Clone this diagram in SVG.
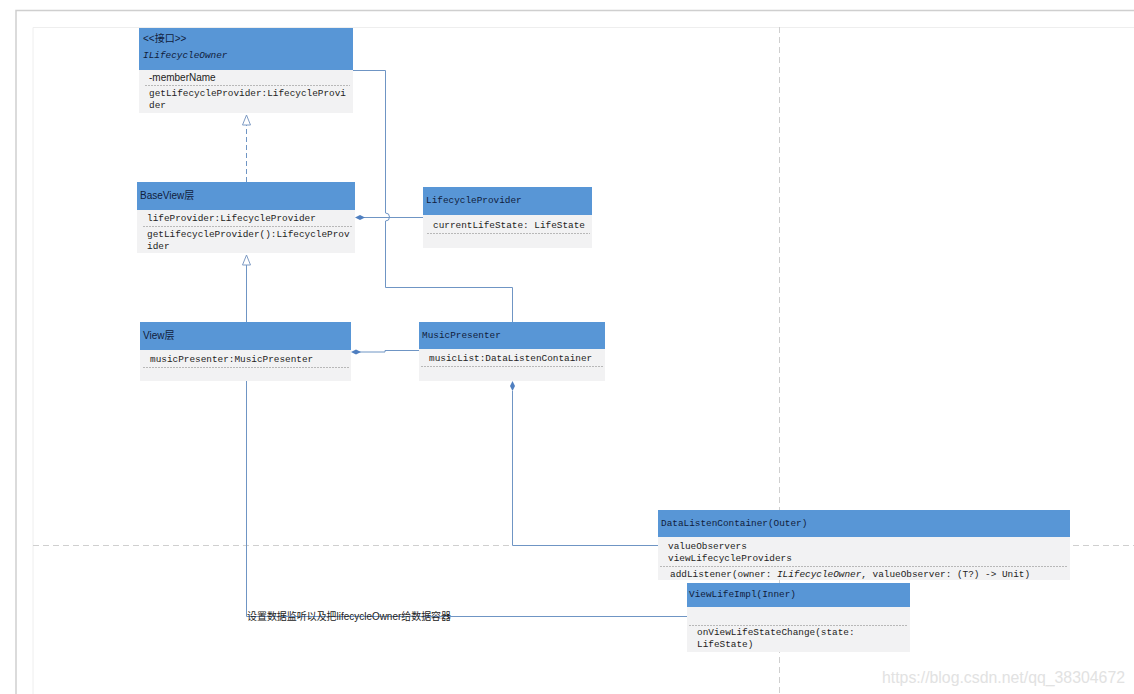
<svg xmlns="http://www.w3.org/2000/svg" width="1134" height="694" viewBox="0 0 1134 694">
<defs>
<style>
.hdr{fill:#5896d6}
.body{fill:#f2f2f3}
.sep{stroke:#b8b8b8;stroke-width:1;stroke-dasharray:2 1}
.mono{font-family:"Liberation Mono","DejaVu Sans Mono",monospace;font-size:9.4px;fill:#222}
.sans{font-family:"Liberation Sans","Noto Sans CJK SC",sans-serif;font-size:10px;fill:#222}
.htxt{fill:#10203c}
.conn{fill:none;stroke:#6f95c4;stroke-width:1}
.grid{stroke:#cfcfcf;stroke-width:1;stroke-dasharray:6 4;fill:none}
</style>
<marker id="tri" viewBox="-1 -1 12 10" refX="10" refY="4" markerWidth="12" markerHeight="10" markerUnits="userSpaceOnUse" orient="auto">
<path d="M0,0 L10,4 L0,8 Z" fill="#fff" stroke="#7f9cc4" stroke-width="1"/>
</marker>
</defs>
<rect width="1134" height="694" fill="#fff"/>
<path d="M16,694 V10.5 H1134" fill="none" stroke="#cfcfcf" stroke-width="1.5"/>
<path d="M33,694 V27.5 H1134" fill="none" stroke="#eeeeee" stroke-width="1"/>
<line class="grid" x1="779.5" y1="27" x2="779.5" y2="694"/>
<line class="grid" x1="33" y1="545.5" x2="1134" y2="545.5"/>

<g id="connectors">
<path class="conn" d="M353,70.5 H385.5 V213 A4,4 0 0 1 385.5,221 V287.5 H512.5 V322"/>
<path class="conn" d="M423,217.5 H359"/>
<path d="M355,217.5 L360,215 L365,217.5 L360,220 Z" fill="#4f7fc0"/>
<path class="conn" d="M246.5,182 V115" stroke-dasharray="5 3" marker-end="url(#tri)"/>
<path class="conn" d="M246.5,322 V255" marker-end="url(#tri)"/>
<path class="conn" d="M419,350.5 H385 V352 H359"/>
<path d="M351,352 L356,349.5 L361,352 L356,354.5 Z" fill="#4f7fc0"/>
<path class="conn" d="M512.5,391 V545.5 H658"/>
<path d="M512.5,381 L515,386 L512.5,391 L510,386 Z" fill="#4f7fc0"/>
<path class="conn" d="M246.5,381 V616.5 H687"/>
<text x="247" y="620" textLength="204" lengthAdjust="spacingAndGlyphs" style="font-family:'Liberation Sans','Noto Sans CJK SC',sans-serif;font-size:10.5px;fill:#222">设置数据监听以及把lifecycleOwner给数据容器</text>
</g>

<g id="ILifecycleOwner">
<rect class="hdr" x="139" y="28" width="214" height="42"/>
<rect class="body" x="139" y="70" width="214" height="43"/>
<text class="sans htxt" x="143" y="42">&lt;&lt;接口&gt;&gt;</text>
<text class="mono htxt" x="143" y="58" font-style="italic">ILifecycleOwner</text>
<text class="sans" x="149" y="81">-memberName</text>
<line class="sep" x1="145" y1="85.5" x2="350" y2="85.5"/>
<text class="mono" x="149" y="96">getLifecycleProvider:LifecycleProvi</text>
<text class="mono" x="149" y="108">der</text>
</g>

<g id="BaseView">
<rect class="hdr" x="137" y="182" width="218" height="28"/>
<rect class="body" x="137" y="210" width="218" height="43"/>
<text class="sans htxt" x="140" y="199">BaseView层</text>
<text class="mono" x="147" y="221">lifeProvider:LifecycleProvider</text>
<line class="sep" x1="143" y1="226.5" x2="352" y2="226.5"/>
<text class="mono" x="147" y="237">getLifecycleProvider():LifecycleProv</text>
<text class="mono" x="147" y="249">ider</text>
</g>

<g id="LifecycleProvider">
<rect class="hdr" x="423" y="187" width="169" height="28"/>
<rect class="body" x="423" y="215" width="169" height="33"/>
<text class="mono htxt" x="426" y="203">LifecycleProvider</text>
<text class="mono" x="433" y="228">currentLifeState: LifeState</text>
<line class="sep" x1="427" y1="233.5" x2="590" y2="233.5"/>
</g>

<g id="View">
<rect class="hdr" x="140" y="322" width="211" height="28"/>
<rect class="body" x="140" y="350" width="211" height="31"/>
<text class="sans htxt" x="143" y="339">View层</text>
<text class="mono" x="150" y="362">musicPresenter:MusicPresenter</text>
<line class="sep" x1="143" y1="367.5" x2="349" y2="367.5"/>
</g>

<g id="MusicPresenter">
<rect class="hdr" x="419" y="322" width="186" height="27"/>
<rect class="body" x="419" y="349" width="186" height="32"/>
<text class="mono htxt" x="422" y="338">MusicPresenter</text>
<text class="mono" x="429" y="361">musicList:DataListenContainer</text>
<line class="sep" x1="421" y1="366.5" x2="603" y2="366.5"/>
</g>

<g id="DataListenContainer">
<rect class="hdr" x="658" y="510" width="412" height="27"/>
<rect class="body" x="658" y="537" width="412" height="43"/>
<text class="mono htxt" x="661" y="526">DataListenContainer(Outer)</text>
<text class="mono" x="668" y="549">valueObservers</text>
<text class="mono" x="668" y="561">viewLifecycleProviders</text>
<line class="sep" x1="660" y1="566.5" x2="1068" y2="566.5"/>
<text class="mono" x="670" y="577">addListener(owner: <tspan font-style="italic">ILifecycleOwner</tspan>, valueObserver: (T?) -&gt; Unit)</text>
</g>

<g id="ViewLifeImpl">
<rect class="hdr" x="687" y="583" width="223" height="24"/>
<rect class="body" x="687" y="607" width="223" height="45"/>
<text class="mono htxt" x="689" y="597">ViewLifeImpl(Inner)</text>
<line class="sep" x1="689" y1="625.5" x2="908" y2="625.5"/>
<text class="mono" x="697" y="635">onViewLifeStateChange(state:</text>
<text class="mono" x="697" y="647">LifeState)</text>
</g>

<text x="882" y="683" textLength="243" lengthAdjust="spacingAndGlyphs" style="font-family:'Liberation Sans',sans-serif;font-size:16px;fill:#e2e2e2">https://blog.csdn.net/qq_38304672</text>
</svg>
